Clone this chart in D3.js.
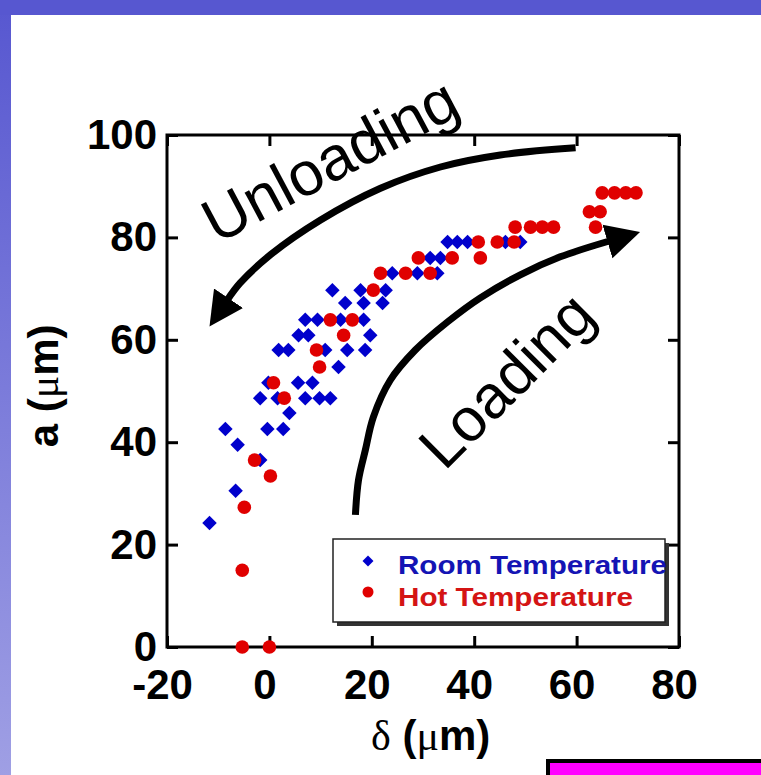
<!DOCTYPE html>
<html>
<head>
<meta charset="utf-8">
<script src="https://cdn.jsdelivr.net/npm/d3@7"></script>
<style>
  html, body { margin: 0; padding: 0; background: #fff; }
  svg { display: block; }
</style>
</head>
<body>
<script>
// Crack length a (µm) against displacement δ (µm), [δ, a]
const roomTemp = [
  [-11.7, 24.2], [-6.6, 30.5], [-1.8, 36.5], [-6.2, 39.5],
  [-8.6, 42.6], [-0.4, 42.6], [2.7, 42.6], [3.9, 45.7],
  [-1.8, 48.6], [1.6, 48.6], [7.0, 48.6], [9.8, 48.6], [11.9, 48.6],
  [-0.2, 51.6], [5.6, 51.6], [8.4, 51.6],
  [13.5, 54.7],
  [1.8, 58.0], [3.7, 58.0], [10.9, 58.0], [15.2, 58.0], [18.7, 58.0],
  [5.7, 60.9], [7.6, 60.9], [19.7, 60.9],
  [7.0, 63.9], [9.4, 63.9], [13.9, 63.9], [18.4, 63.9],
  [14.8, 67.2], [18.4, 67.2], [22.1, 67.2],
  [12.3, 69.7], [17.8, 69.7], [22.7, 69.7],
  [24.0, 73.0], [28.9, 73.0], [32.8, 73.0],
  [31.4, 76.0], [33.4, 76.0],
  [34.8, 79.1], [36.7, 79.1], [38.7, 79.1], [46.1, 79.1], [49.0, 79.1]
];
const hotTemp = [
  [-5.3, 0], [0, 0], [-5.3, 15.0], [-4.9, 27.3], [0.2, 33.4], [-2.9, 36.5],
  [2.9, 48.6], [0.8, 51.6], [9.8, 54.7], [9.2, 58.0], [14.5, 60.9],
  [11.9, 63.9], [16.2, 63.9], [20.3, 69.7],
  [21.7, 73.0], [26.6, 73.0], [31.4, 73.0],
  [29.1, 76.0], [35.7, 76.0], [41.2, 76.0],
  [40.8, 79.1], [44.5, 79.1], [47.8, 79.1],
  [48.0, 82.0], [51.0, 82.0], [53.3, 82.0], [55.5, 82.0],
  [63.7, 82.0], [62.5, 85.0], [64.6, 85.0],
  [65.0, 88.7], [67.4, 88.7], [69.6, 88.7], [71.6, 88.7]
];
const xTicks = [-20, 0, 20, 40, 60, 80];
const yTicks = [0, 20, 40, 60, 80, 100];
const seriesNames = ["Room Temperature", "Hot Temperature"];
const arrowLabels = ["Unloading", "Loading"];

// arrow guides, in data units
const unloadingArrow = [
  [59.8, 97.5], [45.1, 96.1], [33.4, 93.75], [21.7, 89.6],
  [10.0, 83.4], [0.2, 76.6], [-5.7, 71.1], [-8.2, 67.8]
];
const loadingArrow = [
  [16.8, 25.8], [17.4, 32.6], [18.75, 38.5], [20.3, 44.9], [23.6, 52.1],
  [28.5, 58.0], [34.8, 63.5], [41.2, 68.2], [49.0, 72.7], [56.8, 76.2], [66.4, 79.3]
];

const W = 761, H = 775;
const BLUE = "#0000cc", RED = "#e00000";

const svg = d3.select("body").append("svg")
  .attr("width", W).attr("height", H)
  .style("font-family", "'Liberation Sans', Arial, sans-serif");

const defs = svg.append("defs");
const grad = defs.append("linearGradient").attr("id", "sideBand")
  .attr("x1", 0).attr("y1", 0).attr("x2", 0).attr("y2", 1);
grad.append("stop").attr("offset", "0%").attr("stop-color", "#5757d0");
grad.append("stop").attr("offset", "100%").attr("stop-color", "#9f9fe4");

defs.append("marker").attr("id", "head")
  .attr("markerUnits", "userSpaceOnUse")
  .attr("viewBox", "0 -18 36 36")
  .attr("refX", 2).attr("refY", 0)
  .attr("markerWidth", 36).attr("markerHeight", 36)
  .attr("orient", "auto")
  .append("path").attr("d", "M0,-17.5L34,0L0,17.5Z").attr("fill", "#000");

// slide frame
svg.append("rect").attr("x", 0).attr("y", 0).attr("width", W).attr("height", H).attr("fill", "#fff");
svg.append("rect").attr("x", 0).attr("y", 0).attr("width", 11).attr("height", H).attr("fill", "url(#sideBand)");
svg.append("rect").attr("x", 0).attr("y", 0).attr("width", W).attr("height", 15).attr("fill", "#5757d0");

const x = d3.scaleLinear().domain([-20, 80]).range([167, 679]);
const y = d3.scaleLinear().domain([0, 100]).range([647, 135]);

const plot = svg.append("g");

// axes with inward ticks on all four sides
const plainNum = d => String(d);
const tickFont = g => g.selectAll("text")
  .attr("font-size", 42).attr("font-weight", "bold").attr("fill", "#000")
  .attr("font-family", "'Liberation Sans', Arial, sans-serif");
const styleAxis = g => {
  g.select(".domain").remove();
  g.selectAll(".tick line").attr("stroke", "#000").attr("stroke-width", 3);
};

plot.append("g").attr("transform", `translate(0,${y(0)})`)
  .call(d3.axisBottom(x).tickValues(xTicks).tickSize(-11).tickPadding(22).tickFormat(plainNum))
  .call(styleAxis).call(tickFont)
  .call(g => g.selectAll("text").attr("dx", -5));
plot.append("g").attr("transform", `translate(0,${y(100)})`)
  .call(d3.axisTop(x).tickValues(xTicks).tickSize(-11).tickFormat(""))
  .call(styleAxis);
plot.append("g").attr("transform", `translate(${x(-20)},0)`)
  .call(d3.axisLeft(y).tickValues(yTicks).tickSize(-11).tickPadding(10).tickFormat(plainNum))
  .call(styleAxis).call(tickFont);
plot.append("g").attr("transform", `translate(${x(80)},0)`)
  .call(d3.axisRight(y).tickValues(yTicks).tickSize(-11).tickFormat(""))
  .call(styleAxis);

plot.append("rect")
  .attr("x", x(-20)).attr("y", y(100))
  .attr("width", x(80) - x(-20)).attr("height", y(0) - y(100))
  .attr("fill", "none").attr("stroke", "#000").attr("stroke-width", 3);

// axis titles
const yTitle = svg.append("text")
  .attr("transform", `translate(58,${y(51)}) rotate(-90)`)
  .attr("text-anchor", "middle").attr("font-size", 42).attr("font-weight", "bold");
yTitle.append("tspan").text("a (");
yTitle.append("tspan").attr("font-family", "'Liberation Serif', serif").attr("font-weight", "normal").text("μ");
yTitle.append("tspan").text("m)");

const xTitle = svg.append("text")
  .attr("x", x(31.5)).attr("y", 750)
  .attr("text-anchor", "middle").attr("font-size", 42).attr("font-weight", "bold");
xTitle.append("tspan").attr("font-family", "'Liberation Serif', serif").attr("font-weight", "normal").text("δ");
xTitle.append("tspan").text(" (");
xTitle.append("tspan").attr("font-family", "'Liberation Serif', serif").attr("font-weight", "normal").text("μ");
xTitle.append("tspan").text("m)");

// data points
const diamond = d3.symbol(d3.symbolSquare, 105);
plot.append("g").selectAll("path").data(roomTemp).join("path")
  .attr("d", diamond)
  .attr("transform", d => `translate(${x(d[0])},${y(d[1])}) rotate(45)`)
  .attr("fill", BLUE);

plot.append("g").selectAll("circle").data(hotTemp).join("circle")
  .attr("cx", d => x(d[0])).attr("cy", d => y(d[1])).attr("r", 6.8)
  .attr("fill", RED);

// loading / unloading arrows
const arrowLine = d3.line().x(d => x(d[0])).y(d => y(d[1])).curve(d3.curveCatmullRom);
[unloadingArrow, loadingArrow].forEach(pts => {
  svg.append("path").attr("d", arrowLine(pts))
    .attr("fill", "none").attr("stroke", "#000").attr("stroke-width", 7)
    .attr("marker-end", "url(#head)");
});

svg.append("text")
  .attr("transform", `translate(${x(13.8)},${y(91.4)}) rotate(-28)`)
  .attr("text-anchor", "middle").attr("font-size", 62).text(arrowLabels[0]);
svg.append("text")
  .attr("transform", `translate(${x(49.2)},${y(49.2)}) rotate(-45)`)
  .attr("text-anchor", "middle").attr("font-size", 61).text(arrowLabels[1]);

// legend
const leg = svg.append("g");
leg.append("rect").attr("x", 337).attr("y", 543).attr("width", 332).attr("height", 83).attr("fill", "#333");
leg.append("rect").attr("x", 333).attr("y", 539).attr("width", 332).attr("height", 83)
  .attr("fill", "#fff").attr("stroke", "#222").attr("stroke-width", 1.5);
leg.append("path").attr("d", d3.symbol(d3.symbolSquare, 60))
  .attr("transform", "translate(368,561) rotate(45)").attr("fill", BLUE);
leg.append("circle").attr("cx", 368).attr("cy", 592).attr("r", 5.5).attr("fill", RED);
leg.append("text").attr("x", 398).attr("y", 574).attr("font-size", 25).attr("font-weight", "bold")
  .attr("fill", "#1414b4").attr("textLength", 269).attr("lengthAdjust", "spacingAndGlyphs").text(seriesNames[0]);
leg.append("text").attr("x", 398).attr("y", 606).attr("font-size", 25).attr("font-weight", "bold")
  .attr("fill", "#d41414").attr("textLength", 235).attr("lengthAdjust", "spacingAndGlyphs").text(seriesNames[1]);

// corner box
svg.append("rect").attr("x", 548).attr("y", 761).attr("width", 230).attr("height", 30)
  .attr("fill", "#ff00ff").attr("stroke", "#000").attr("stroke-width", 4);
</script>
</body>
</html>
